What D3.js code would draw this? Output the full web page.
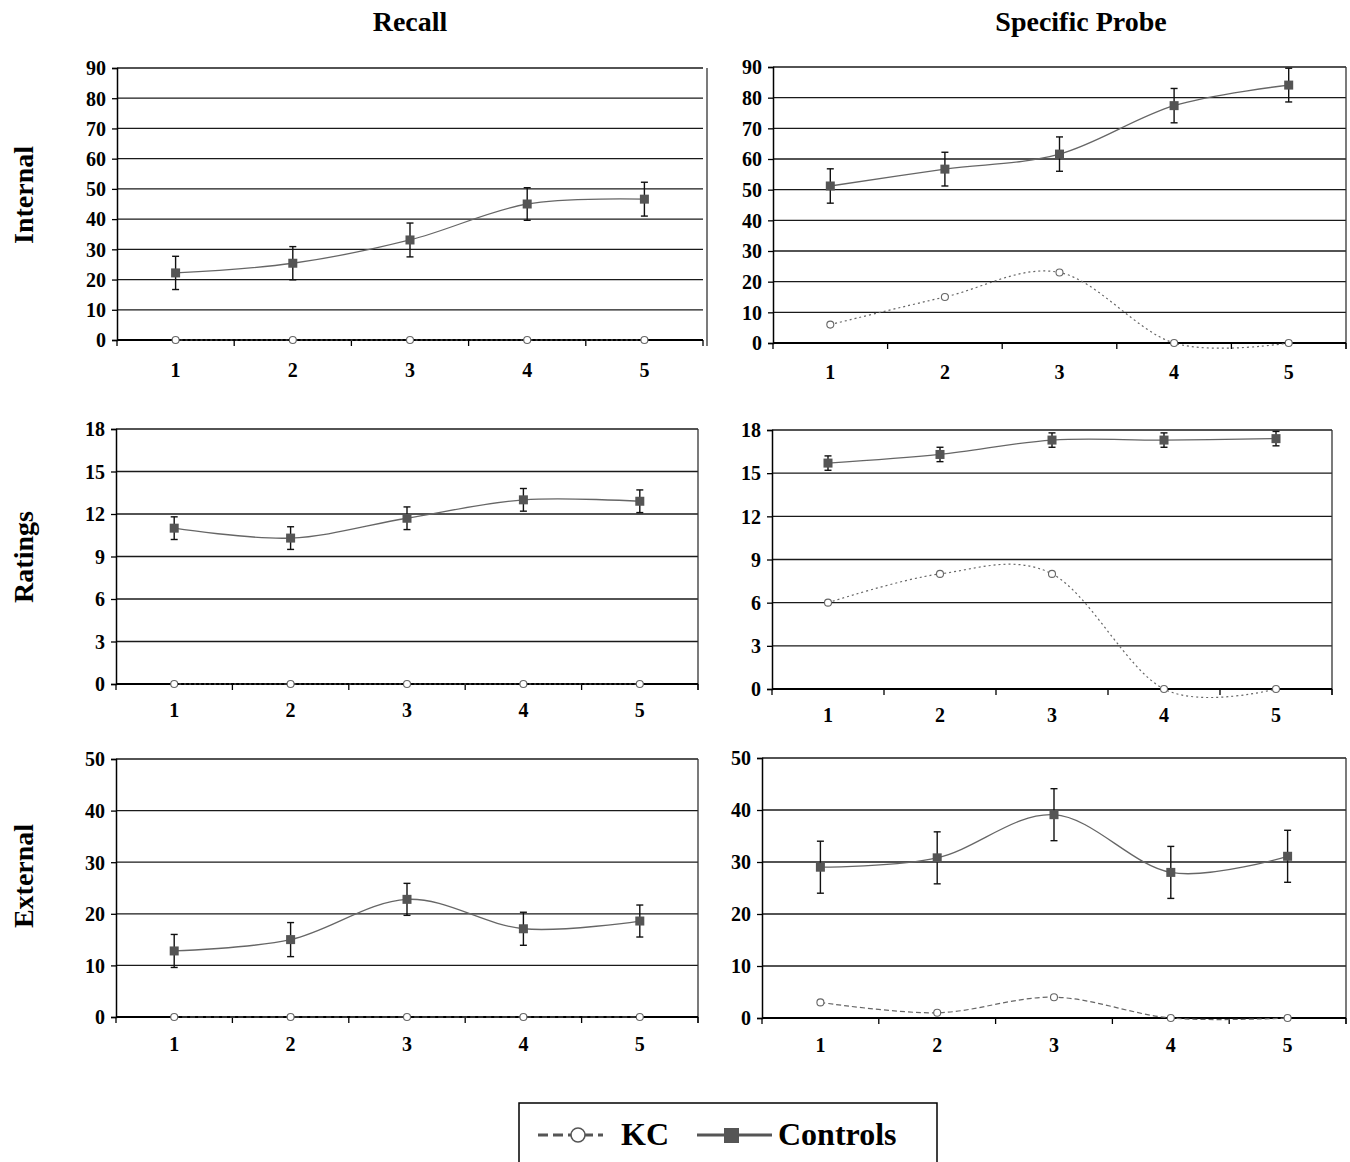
<!DOCTYPE html>
<html>
<head>
<meta charset="utf-8">
<script src="https://cdn.jsdelivr.net/npm/d3@7"></script>
<style>
  body { margin: 0; background: #fff; }
  text { font-family: "Liberation Serif", "Times New Roman", serif; font-weight: bold; fill: #000; }
</style>
</head>
<body>
<svg id="chart" width="1350" height="1162"></svg>
<script>
// sessions on the x axis
var sessions = ["1", "2", "3", "4", "5"];

// tick values for each row
var internalTicks = [0, 10, 20, 30, 40, 50, 60, 70, 80, 90];
var ratingsTicks = [0, 3, 6, 9, 12, 15, 18];
var externalTicks = [0, 10, 20, 30, 40, 50];

// Recall column
var recallInternalCtl = [22.2, 25.4, 33.1, 45.0, 46.6];
var recallInternalErr = [5.5, 5.5, 5.6, 5.4, 5.6];
var recallInternalKC = [0, 0, 0, 0, 0];

var recallRatingsCtl = [11.0, 10.3, 11.7, 13.0, 12.9];
var recallRatingsErr = [0.8, 0.8, 0.8, 0.8, 0.8];
var recallRatingsKC = [0, 0, 0, 0, 0];

var recallExternalCtl = [12.8, 15.0, 22.8, 17.1, 18.6];
var recallExternalErr = [3.2, 3.3, 3.1, 3.2, 3.1];
var recallExternalKC = [0, 0, 0, 0, 0];

// Specific Probe column
var probeInternalCtl = [51.2, 56.7, 61.6, 77.4, 84.1];
var probeInternalErr = [5.6, 5.5, 5.6, 5.6, 5.5];
var probeInternalKC = [6, 15, 23, 0, 0];

var probeRatingsCtl = [15.7, 16.3, 17.3, 17.3, 17.4];
var probeRatingsErr = [0.5, 0.5, 0.5, 0.5, 0.5];
var probeRatingsKC = [6, 8, 8, 0, 0];

var probeExternalCtl = [29.0, 30.8, 39.1, 28.0, 31.1];
var probeExternalErr = [5, 5, 5, 5, 5];
var probeExternalKC = [3, 1, 4, 0, 0];

var columnTitles = ["Recall", "Specific Probe"];
var rowTitles = ["Internal", "Ratings", "External"];

// panel layout (pixel boxes of each plot area)
var panels = [
    { ctl: recallInternalCtl, err: recallInternalErr, kc: recallInternalKC, ticks: internalTicks,
      x0: 117, x1: 703, border: 707, y0: 68, y1: 340, dash: "2,3", labelDy: 37 },
    { ctl: probeInternalCtl, err: probeInternalErr, kc: probeInternalKC, ticks: internalTicks,
      x0: 773, x1: 1346, border: 1346, y0: 67, y1: 343, dash: "2,3", labelDy: 36 },
    { ctl: recallRatingsCtl, err: recallRatingsErr, kc: recallRatingsKC, ticks: ratingsTicks,
      x0: 116, x1: 698, border: 698, y0: 429, y1: 684, dash: "2,3", labelDy: 33 },
    { ctl: probeRatingsCtl, err: probeRatingsErr, kc: probeRatingsKC, ticks: ratingsTicks,
      x0: 772, x1: 1332, border: 1332, y0: 430, y1: 689, dash: "2,3", labelDy: 33 },
    { ctl: recallExternalCtl, err: recallExternalErr, kc: recallExternalKC, ticks: externalTicks,
      x0: 116, x1: 698, border: 698, y0: 759, y1: 1017, dash: "5,3", labelDy: 34 },
    { ctl: probeExternalCtl, err: probeExternalErr, kc: probeExternalKC, ticks: externalTicks,
      x0: 762, x1: 1346, border: 1346, y0: 758, y1: 1018, dash: "5,3", labelDy: 34 }
];

var svg = d3.select("#chart");

function drawPanel(p)
{
    var g = svg.append("g");

    var x = d3.scaleBand()
        .domain(sessions)
        .range([p.x0, p.x1]);

    var y = d3.scaleLinear()
        .domain([0, d3.max(p.ticks)])
        .range([p.y1, p.y0]);

    var cx = function(d, i) { return x(sessions[i]) + x.bandwidth() / 2; };

    // horizontal grid
    g.append("g")
        .selectAll("line")
        .data(p.ticks.filter(function(t) { return t > 0; }))
        .enter().append("line")
        .attr("x1", p.x0).attr("x2", p.x1)
        .attr("y1", function(d) { return y(d); })
        .attr("y2", function(d) { return y(d); })
        .style("stroke", "#1a1a1a")
        .style("stroke-width", 1.3);

    // right border
    g.append("line")
        .attr("x1", p.border).attr("x2", p.border)
        .attr("y1", p.y0).attr("y2", p.y1 + 6)
        .style("stroke", "#333")
        .style("stroke-width", 1.3);

    // y axis
    var yAxis = d3.axisLeft(y)
        .tickValues(p.ticks)
        .tickSize(5)
        .tickPadding(6);
    var ya = g.append("g")
        .attr("transform", "translate(" + p.x0 + ",0)")
        .call(yAxis);
    ya.select(".domain").style("stroke", "#000").style("stroke-width", 1.5);
    ya.selectAll(".tick line").style("stroke", "#000").style("stroke-width", 1.3);
    ya.selectAll(".tick text")
        .style("font-size", "20px")
        .attr("dy", "0.34em");

    // x axis: ticks at category boundaries
    var bounds = sessions.map(function(s) { return x(s); }).concat([p.x1]);
    g.append("line")
        .attr("x1", p.x0).attr("x2", p.x1)
        .attr("y1", y(0)).attr("y2", y(0))
        .style("stroke", "#000")
        .style("stroke-width", 2.2);
    g.append("g")
        .selectAll("line")
        .data(bounds)
        .enter().append("line")
        .attr("x1", function(d) { return d; })
        .attr("x2", function(d) { return d; })
        .attr("y1", y(0)).attr("y2", y(0) + 6)
        .style("stroke", "#000")
        .style("stroke-width", 1.3);
    g.append("g")
        .selectAll("text")
        .data(sessions)
        .enter().append("text")
        .attr("x", function(d) { return x(d) + x.bandwidth() / 2; })
        .attr("y", y(0) + p.labelDy)
        .attr("text-anchor", "middle")
        .style("font-size", "20px")
        .text(function(d) { return d; });

    var smooth = d3.line()
        .x(cx)
        .y(function(d) { return y(d); })
        .curve(d3.curveCardinal.tension(0));

    // KC
    g.append("path")
        .attr("d", smooth(p.kc))
        .style("fill", "none")
        .style("stroke", "#666")
        .style("stroke-width", 1.2)
        .style("stroke-dasharray", p.dash);
    g.append("g")
        .selectAll("circle")
        .data(p.kc)
        .enter().append("circle")
        .attr("cx", cx)
        .attr("cy", function(d) { return y(d); })
        .attr("r", 3.5)
        .style("fill", "#fff")
        .style("stroke", "#666")
        .style("stroke-width", 1.1);

    // Controls
    g.append("path")
        .attr("d", smooth(p.ctl))
        .style("fill", "none")
        .style("stroke", "#666")
        .style("stroke-width", 1.3);

    var bars = g.append("g")
        .selectAll("g")
        .data(p.ctl)
        .enter().append("g")
        .style("stroke", "#111")
        .style("stroke-width", 1.4);
    bars.append("line")
        .attr("x1", cx).attr("x2", cx)
        .attr("y1", function(d, i) { return y(d + p.err[i]); })
        .attr("y2", function(d, i) { return y(d - p.err[i]); });
    bars.append("line")
        .attr("x1", function(d, i) { return cx(d, i) - 3.5; })
        .attr("x2", function(d, i) { return cx(d, i) + 3.5; })
        .attr("y1", function(d, i) { return y(d + p.err[i]); })
        .attr("y2", function(d, i) { return y(d + p.err[i]); });
    bars.append("line")
        .attr("x1", function(d, i) { return cx(d, i) - 3.5; })
        .attr("x2", function(d, i) { return cx(d, i) + 3.5; })
        .attr("y1", function(d, i) { return y(d - p.err[i]); })
        .attr("y2", function(d, i) { return y(d - p.err[i]); });

    g.append("g")
        .selectAll("rect")
        .data(p.ctl)
        .enter().append("rect")
        .attr("x", function(d, i) { return cx(d, i) - 4.5; })
        .attr("y", function(d) { return y(d) - 4.5; })
        .attr("width", 9)
        .attr("height", 9)
        .style("fill", "#555");
}

panels.forEach(drawPanel);

// column titles
svg.selectAll(".col-title")
    .data(columnTitles)
    .enter().append("text")
    .attr("class", "col-title")
    .attr("x", function(d, i) { return [410, 1081][i]; })
    .attr("y", 31)
    .attr("text-anchor", "middle")
    .style("font-size", "28px")
    .text(function(d) { return d; });

// row titles
svg.selectAll(".row-title")
    .data(rowTitles)
    .enter().append("text")
    .attr("class", "row-title")
    .attr("transform", function(d, i) { return "translate(33," + [195, 557, 876][i] + ") rotate(-90)"; })
    .attr("text-anchor", "middle")
    .style("font-size", "28px")
    .text(function(d) { return d; });

// legend
var legend = svg.append("g");
legend.append("rect")
    .attr("x", 519).attr("y", 1103)
    .attr("width", 418).attr("height", 80)
    .style("fill", "#fff")
    .style("stroke", "#000")
    .style("stroke-width", 1.5);
legend.append("line")
    .attr("x1", 538).attr("x2", 603)
    .attr("y1", 1135).attr("y2", 1135)
    .style("stroke", "#555")
    .style("stroke-width", 3)
    .style("stroke-dasharray", "10,5");
legend.append("circle")
    .attr("cx", 578).attr("cy", 1135).attr("r", 7)
    .style("fill", "#fff")
    .style("stroke", "#555")
    .style("stroke-width", 1.5);
legend.append("text")
    .attr("x", 621).attr("y", 1145)
    .style("font-size", "32px")
    .text("KC");
legend.append("line")
    .attr("x1", 697).attr("x2", 772)
    .attr("y1", 1135).attr("y2", 1135)
    .style("stroke", "#555")
    .style("stroke-width", 3);
legend.append("rect")
    .attr("x", 724).attr("y", 1128)
    .attr("width", 15).attr("height", 15)
    .style("fill", "#555");
legend.append("text")
    .attr("x", 778).attr("y", 1145)
    .style("font-size", "32px")
    .text("Controls");
</script>
</body>
</html>
